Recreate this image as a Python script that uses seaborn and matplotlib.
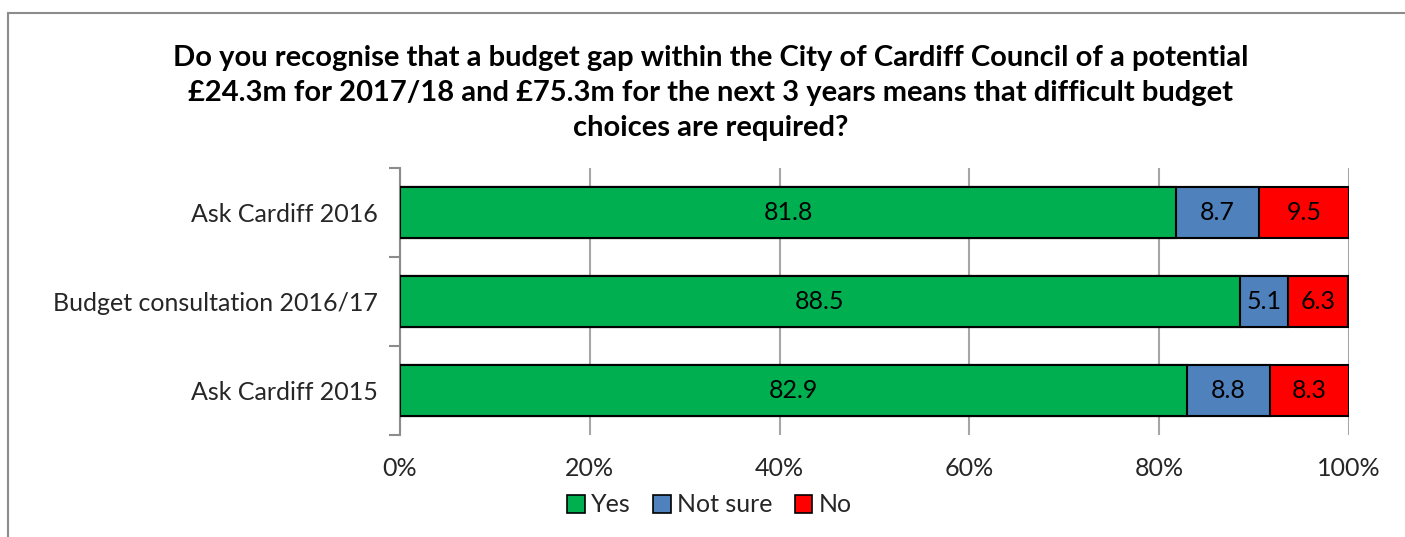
import matplotlib
matplotlib.use("Agg")
import matplotlib.pyplot as plt
from matplotlib.patches import Rectangle, Patch
from matplotlib.ticker import FixedLocator, PercentFormatter
import pandas as pd
import seaborn as sns

surveys = ["Ask Cardiff 2016", "Budget consultation 2016/17", "Ask Cardiff 2015"]
yes = [81.8, 88.5, 82.9]
not_sure = [8.7, 5.1, 8.8]
no = [9.5, 6.3, 8.3]

answers = ["Yes", "Not sure", "No"]
colours = {"Yes": "#00B050", "Not sure": "#4F81BD", "No": "#FF0000"}
title = ("Do you recognise that a budget gap within the City of Cardiff Council of a potential\n"
         "£24.3m for 2017/18 and £75.3m for the next 3 years means that difficult budget\n"
         "choices are required?")

sns.set_style("white")
plt.rcParams["font.family"] = ["Lato", "DejaVu Sans"]

df = pd.DataFrame({"survey": surveys, "Yes": yes, "Not sure": not_sure, "No": no})
df["cum_ns"] = df["Yes"] + df["Not sure"]
df["cum_no"] = df["cum_ns"] + df["No"]

fig = plt.figure(figsize=(14.05, 5.37), dpi=100)
ax = fig.add_axes([400 / 1405, 1 - 435 / 537, 949 / 1405, 267 / 537])

# stacked bars drawn back to front from cumulative totals
for col, ans in [("cum_no", "No"), ("cum_ns", "Not sure"), ("Yes", "Yes")]:
    sns.barplot(data=df, x=col, y="survey", orient="h", color=colours[ans],
                saturation=1, width=0.57, edgecolor="black", linewidth=1.5, ax=ax, zorder=3)

for i, row in df.iterrows():
    starts = [0, row["Yes"], row["cum_ns"]]
    for start, ans in zip(starts, answers):
        ax.text(start + row[ans] / 2, i, f"{row[ans]:.1f}", ha="center", va="center",
                fontsize=18, color="black", zorder=4)

ax.set_xlim(0, 100)
ax.set_ylim(2.5, -0.5)
ax.set_xticks(range(0, 101, 20))
ax.xaxis.set_major_formatter(PercentFormatter(decimals=0))
ax.grid(axis="x", color="#A6A6A6", linewidth=1.5, zorder=0)
ax.set_xlabel("")
ax.set_ylabel("")
for side in ["top", "right", "bottom"]:
    ax.spines[side].set_visible(False)
ax.spines["left"].set_color("#8C8C8C")
ax.spines["left"].set_linewidth(1.5)
ax.tick_params(axis="x", length=0, labelsize=18, pad=16)
ax.tick_params(axis="y", which="major", length=0, labelsize=18, pad=16)
ax.yaxis.set_minor_locator(FixedLocator([-0.5, 0.5, 1.5, 2.5]))
ax.tick_params(axis="y", which="minor", length=8, width=1.5, color="#8C8C8C", left=True)

fig.text(0.506, 1 - 93 / 537, title, ha="center", va="center", fontsize=21,
         fontweight="bold", linespacing=1.42, color="black")

handles = [Patch(facecolor=colours[a], edgecolor="black", linewidth=1.2, label=a) for a in answers]
fig.legend(handles=handles, loc="center", bbox_to_anchor=(0.505, 1 - 505 / 537), ncol=3,
           frameon=False, fontsize=18, handlelength=0.7, handleheight=0.7,
           handletextpad=0.25, columnspacing=0.9)

fig.patches.append(Rectangle((8 / 1405, -0.1), 1.2, 1.1 - 13 / 537, transform=fig.transFigure,
                             fill=False, edgecolor="#8C8C8C", linewidth=1.5))

fig.savefig("out.png", dpi=100)
